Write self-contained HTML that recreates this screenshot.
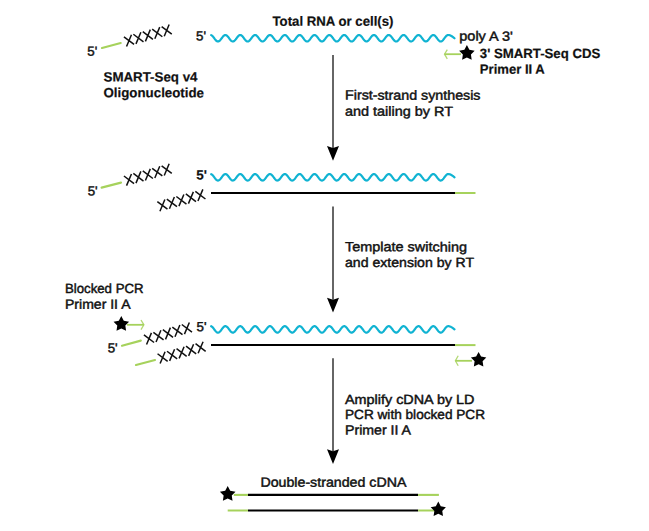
<!DOCTYPE html>
<html><head><meta charset="utf-8"><style>
html,body{margin:0;padding:0;background:#fff;}
svg{display:block;}
text{font-family:"Liberation Sans",sans-serif;fill:#111;}
text.r{stroke:#111;stroke-width:0.45px;}
text.b{stroke:#111;stroke-width:0.2px;}
</style></head><body>
<svg width="649" height="531" viewBox="0 0 649 531">
<rect width="649" height="531" fill="#fff"/>
<polyline points="211.20,35.12 211.70,35.38 212.20,35.76 212.70,36.25 213.20,36.84 213.70,37.48 214.20,38.16 214.70,38.85 215.20,39.50 215.70,40.11 216.20,40.62 216.70,41.04 217.20,41.33 217.70,41.48 218.20,41.49 218.70,41.35 219.20,41.07 219.70,40.67 220.20,40.17 220.70,39.57 221.20,38.92 221.70,38.24 222.20,37.55 222.70,36.90 223.20,36.31 223.70,35.81 224.20,35.41 224.70,35.14 225.20,35.01 225.70,35.03 226.20,35.18 226.70,35.48 227.20,35.89 227.70,36.42 228.20,37.02 228.70,37.68 229.20,38.37 229.70,39.04 230.20,39.69 230.70,40.27 231.20,40.76 231.70,41.14 232.20,41.39 232.70,41.50 233.20,41.46 233.70,41.28 234.20,40.97 234.70,40.53 235.19,40.00 235.69,39.38 236.19,38.72 236.69,38.03 237.19,37.36 237.69,36.72 238.19,36.15 238.69,35.68 239.19,35.32 239.69,35.09 240.19,35.00 240.69,35.06 241.19,35.26 241.69,35.59 242.19,36.04 242.69,36.59 243.19,37.21 243.69,37.88 244.19,38.57 244.69,39.24 245.19,39.87 245.69,40.42 246.19,40.88 246.69,41.22 247.19,41.43 247.69,41.50 248.19,41.42 248.69,41.20 249.19,40.85 249.69,40.39 250.19,39.83 250.69,39.19 251.19,38.52 251.69,37.83 252.19,37.17 252.69,36.55 253.19,36.00 253.69,35.56 254.19,35.24 254.69,35.05 255.19,35.00 255.69,35.10 256.19,35.34 256.69,35.71 257.19,36.19 257.69,36.76 258.19,37.40 258.69,38.08 259.19,38.77 259.69,39.43 260.19,40.04 260.69,40.57 261.19,40.99 261.69,41.30 262.19,41.47 262.69,41.49 263.19,41.37 263.69,41.11 264.19,40.73 264.69,40.23 265.19,39.65 265.69,39.00 266.19,38.32 266.69,37.63 267.19,36.98 267.69,36.38 268.19,35.86 268.69,35.45 269.19,35.17 269.69,35.02 270.19,35.02 270.69,35.16 271.19,35.44 271.69,35.84 272.19,36.35 272.69,36.95 273.19,37.60 273.69,38.28 274.19,38.96 274.69,39.61 275.19,40.20 275.69,40.71 276.19,41.10 276.69,41.36 277.19,41.49 277.69,41.47 278.19,41.31 278.69,41.01 279.19,40.59 279.69,40.07 280.19,39.46 280.69,38.80 281.19,38.12 281.69,37.44 282.19,36.79 282.68,36.22 283.18,35.73 283.68,35.36 284.18,35.11 284.68,35.00 285.18,35.04 285.68,35.22 286.18,35.54 286.68,35.98 287.18,36.52 287.68,37.13 288.18,37.80 288.68,38.49 289.18,39.16 289.68,39.80 290.18,40.36 290.68,40.83 291.18,41.19 291.68,41.41 292.18,41.50 292.68,41.44 293.18,41.24 293.68,40.90 294.18,40.45 294.68,39.90 295.18,39.27 295.68,38.60 296.18,37.91 296.68,37.24 297.18,36.62 297.68,36.06 298.18,35.61 298.68,35.27 299.18,35.06 299.68,35.00 300.18,35.08 300.68,35.30 301.18,35.66 301.68,36.13 302.18,36.69 302.68,37.33 303.18,38.00 303.68,38.69 304.18,39.35 304.68,39.97 305.18,40.51 305.68,40.95 306.18,41.27 306.68,41.45 307.18,41.50 307.68,41.39 308.18,41.15 308.68,40.78 309.18,40.29 309.68,39.72 310.18,39.08 310.68,38.40 311.18,37.71 311.68,37.05 312.18,36.45 312.68,35.92 313.18,35.49 313.68,35.19 314.18,35.03 314.68,35.01 315.18,35.13 315.68,35.40 316.18,35.79 316.68,36.28 317.18,36.87 317.68,37.52 318.18,38.20 318.68,38.89 319.18,39.54 319.68,40.14 320.18,40.65 320.68,41.06 321.18,41.34 321.68,41.48 322.18,41.48 322.68,41.34 323.18,41.05 323.68,40.65 324.18,40.13 324.68,39.54 325.18,38.88 325.68,38.20 326.18,37.52 326.68,36.87 327.18,36.28 327.68,35.78 328.18,35.39 328.68,35.13 329.18,35.01 329.67,35.03 330.17,35.20 330.67,35.50 331.17,35.92 331.67,36.45 332.17,37.06 332.67,37.72 333.17,38.40 333.67,39.08 334.17,39.72 334.67,40.30 335.17,40.78 335.67,41.15 336.17,41.40 336.67,41.50 337.17,41.45 337.67,41.27 338.17,40.95 338.67,40.51 339.17,39.97 339.67,39.35 340.17,38.68 340.67,38.00 341.17,37.32 341.67,36.69 342.17,36.12 342.67,35.66 343.17,35.30 343.67,35.08 344.17,35.00 344.67,35.06 345.17,35.27 345.67,35.61 346.17,36.07 346.67,36.62 347.17,37.25 347.67,37.92 348.17,38.60 348.67,39.28 349.17,39.90 349.67,40.45 350.17,40.90 350.67,41.24 351.17,41.44 351.67,41.50 352.17,41.41 352.67,41.19 353.17,40.83 353.67,40.36 354.17,39.79 354.67,39.16 355.17,38.48 355.67,37.79 356.17,37.13 356.67,36.51 357.17,35.98 357.67,35.54 358.17,35.22 358.67,35.04 359.17,35.00 359.67,35.11 360.17,35.36 360.67,35.73 361.17,36.22 361.67,36.80 362.17,37.44 362.67,38.12 363.17,38.80 363.67,39.46 364.17,40.07 364.67,40.60 365.17,41.02 365.67,41.31 366.17,41.47 366.67,41.49 367.17,41.36 367.67,41.10 368.17,40.70 368.67,40.20 369.17,39.61 369.67,38.96 370.17,38.28 370.67,37.60 371.17,36.94 371.67,36.35 372.17,35.84 372.67,35.43 373.17,35.16 373.67,35.02 374.17,35.02 374.67,35.17 375.17,35.45 375.67,35.87 376.17,36.38 376.67,36.98 377.16,37.64 377.66,38.32 378.16,39.00 378.66,39.65 379.16,40.23 379.66,40.73 380.16,41.12 380.66,41.37 381.16,41.49 381.66,41.47 382.16,41.30 382.66,40.99 383.16,40.57 383.66,40.03 384.16,39.42 384.66,38.76 385.16,38.08 385.66,37.40 386.16,36.76 386.66,36.19 387.16,35.71 387.66,35.34 388.16,35.10 388.66,35.00 389.16,35.05 389.66,35.24 390.16,35.56 390.66,36.01 391.16,36.55 391.66,37.17 392.16,37.84 392.66,38.52 393.16,39.20 393.66,39.83 394.16,40.39 394.66,40.86 395.16,41.21 395.66,41.42 396.16,41.50 396.66,41.43 397.16,41.22 397.66,40.88 398.16,40.42 398.66,39.86 399.16,39.23 399.66,38.56 400.16,37.88 400.66,37.21 401.16,36.58 401.66,36.03 402.16,35.59 402.66,35.25 403.16,35.06 403.66,35.00 404.16,35.09 404.66,35.32 405.16,35.68 405.66,36.16 406.16,36.73 406.66,37.36 407.16,38.04 407.66,38.72 408.16,39.39 408.66,40.00 409.16,40.54 409.66,40.97 410.16,41.28 410.66,41.46 411.16,41.49 411.66,41.38 412.16,41.13 412.66,40.76 413.16,40.26 413.66,39.68 414.16,39.04 414.66,38.36 415.16,37.68 415.66,37.02 416.16,36.41 416.66,35.89 417.16,35.47 417.66,35.18 418.16,35.03 418.66,35.01 419.16,35.14 419.66,35.41 420.16,35.81 420.66,36.32 421.16,36.91 421.66,37.56 422.16,38.24 422.66,38.92 423.16,39.58 423.66,40.17 424.16,40.68 424.65,41.08 425.15,41.35 425.65,41.49 426.15,41.48 426.65,41.32 427.15,41.04 427.65,40.62 428.15,40.10 428.65,39.50 429.15,38.84 429.65,38.16 430.15,37.48 430.65,36.83 431.15,36.25 431.65,35.76 432.15,35.38 432.65,35.12 433.15,35.01 433.65,35.04 434.15,35.21 434.65,35.52 435.15,35.95 435.65,36.48 436.15,37.09 436.65,37.76 437.15,38.44 437.65,39.12 438.15,39.76 438.65,40.33 439.15,40.81 439.65,41.17 440.15,41.40 440.65,41.50 441.15,41.45 441.65,41.25 442.15,40.93 442.65,40.48 443.15,39.93 443.65,39.31 444.15,38.64 444.65,37.96 445.15,37.28 445.65,36.65 446.15,36.10 446.65,35.63 447.15,35.29 447.65,35.07 448.15,35.00 448.60,35.02 449.06,35.08 449.51,35.18 449.96,35.32 450.42,35.50 450.87,35.71 451.32,35.95 451.78,36.22 452.23,36.52 452.69,36.84 453.14,37.18 453.59,37.53 454.05,37.89 454.50,38.25" fill="none" stroke="#10b3d2" stroke-width="2.2" stroke-linecap="round" stroke-linejoin="round"/>
<path d="M123.93 36.79L134.07 44.41M126.54 46.45L131.46 34.75" stroke="#111" stroke-width="1.5" fill="none"/><path d="M133.35 34.24L143.50 41.86M135.97 43.90L140.88 32.20" stroke="#111" stroke-width="1.5" fill="none"/><path d="M142.78 31.69L152.92 39.31M145.39 41.35L150.31 29.65" stroke="#111" stroke-width="1.5" fill="none"/><path d="M152.20 29.14L162.35 36.76M154.82 38.80L159.73 27.10" stroke="#111" stroke-width="1.5" fill="none"/><path d="M161.63 26.59L171.77 34.21M164.24 36.25L169.16 24.55" stroke="#111" stroke-width="1.5" fill="none"/>
<line x1="102" y1="48" x2="120.7" y2="43" stroke="#a6d25c" stroke-width="2.2" stroke-linecap="round"/>
<line x1="461" y1="54.2" x2="444.5" y2="54.2" stroke="#a6d25c" stroke-width="1.8" stroke-linecap="butt"/><polyline points="447.3,49.6 444.5,54.2 447.3,58.800000000000004" fill="none" stroke="#a6d25c" stroke-width="1.3" stroke-linejoin="miter" opacity="0.85"/>
<polygon points="466.90,45.00 469.39,49.72 474.65,50.63 470.93,54.46 471.69,59.74 466.90,57.39 462.11,59.74 462.87,54.46 459.15,50.63 464.41,49.72" fill="#000"/>
<line x1="333" y1="54.9" x2="333" y2="148" stroke="#333" stroke-width="1.5" stroke-linecap="butt"/><polygon points="327,146 333,160.8 339,146 333,148" fill="#000"/>
<polyline points="211.20,174.17 211.70,174.43 212.20,174.81 212.70,175.30 213.20,175.89 213.70,176.53 214.20,177.21 214.70,177.90 215.20,178.55 215.70,179.16 216.20,179.67 216.70,180.09 217.20,180.38 217.70,180.53 218.20,180.54 218.70,180.40 219.20,180.12 219.70,179.72 220.20,179.22 220.70,178.62 221.20,177.97 221.70,177.29 222.20,176.60 222.70,175.95 223.20,175.36 223.70,174.86 224.20,174.46 224.70,174.19 225.20,174.06 225.70,174.08 226.20,174.23 226.70,174.53 227.20,174.94 227.70,175.47 228.20,176.07 228.70,176.73 229.20,177.42 229.70,178.09 230.20,178.74 230.70,179.32 231.20,179.81 231.70,180.19 232.20,180.44 232.70,180.55 233.20,180.51 233.70,180.33 234.20,180.02 234.70,179.58 235.19,179.05 235.69,178.43 236.19,177.77 236.69,177.08 237.19,176.41 237.69,175.77 238.19,175.20 238.69,174.73 239.19,174.37 239.69,174.14 240.19,174.05 240.69,174.11 241.19,174.31 241.69,174.64 242.19,175.09 242.69,175.64 243.19,176.26 243.69,176.93 244.19,177.62 244.69,178.29 245.19,178.92 245.69,179.47 246.19,179.93 246.69,180.27 247.19,180.48 247.69,180.55 248.19,180.47 248.69,180.25 249.19,179.90 249.69,179.44 250.19,178.88 250.69,178.24 251.19,177.57 251.69,176.88 252.19,176.22 252.69,175.60 253.19,175.05 253.69,174.61 254.19,174.29 254.69,174.10 255.19,174.05 255.69,174.15 256.19,174.39 256.69,174.76 257.19,175.24 257.69,175.81 258.19,176.45 258.69,177.13 259.19,177.82 259.69,178.48 260.19,179.09 260.69,179.62 261.19,180.04 261.69,180.35 262.19,180.52 262.69,180.54 263.19,180.42 263.69,180.16 264.19,179.78 264.69,179.28 265.19,178.70 265.69,178.05 266.19,177.37 266.69,176.68 267.19,176.03 267.69,175.43 268.19,174.91 268.69,174.50 269.19,174.22 269.69,174.07 270.19,174.07 270.69,174.21 271.19,174.49 271.69,174.89 272.19,175.40 272.69,176.00 273.19,176.65 273.69,177.33 274.19,178.01 274.69,178.66 275.19,179.25 275.69,179.76 276.19,180.15 276.69,180.41 277.19,180.54 277.69,180.52 278.19,180.36 278.69,180.06 279.19,179.64 279.69,179.12 280.19,178.51 280.69,177.85 281.19,177.17 281.69,176.49 282.19,175.84 282.68,175.27 283.18,174.78 283.68,174.41 284.18,174.16 284.68,174.05 285.18,174.09 285.68,174.27 286.18,174.59 286.68,175.03 287.18,175.57 287.68,176.18 288.18,176.85 288.68,177.54 289.18,178.21 289.68,178.85 290.18,179.41 290.68,179.88 291.18,180.24 291.68,180.46 292.18,180.55 292.68,180.49 293.18,180.29 293.68,179.95 294.18,179.50 294.68,178.95 295.18,178.32 295.68,177.65 296.18,176.96 296.68,176.29 297.18,175.67 297.68,175.11 298.18,174.66 298.68,174.32 299.18,174.11 299.68,174.05 300.18,174.13 300.68,174.35 301.18,174.71 301.68,175.18 302.18,175.74 302.68,176.38 303.18,177.05 303.68,177.74 304.18,178.40 304.68,179.02 305.18,179.56 305.68,180.00 306.18,180.32 306.68,180.50 307.18,180.55 307.68,180.44 308.18,180.20 308.68,179.83 309.18,179.34 309.68,178.77 310.18,178.13 310.68,177.45 311.18,176.76 311.68,176.10 312.18,175.50 312.68,174.97 313.18,174.54 313.68,174.24 314.18,174.08 314.68,174.06 315.18,174.18 315.68,174.45 316.18,174.84 316.68,175.33 317.18,175.92 317.68,176.57 318.18,177.25 318.68,177.94 319.18,178.59 319.68,179.19 320.18,179.70 320.68,180.11 321.18,180.39 321.68,180.53 322.18,180.53 322.68,180.39 323.18,180.10 323.68,179.70 324.18,179.18 324.68,178.59 325.18,177.93 325.68,177.25 326.18,176.57 326.68,175.92 327.18,175.33 327.68,174.83 328.18,174.44 328.68,174.18 329.18,174.06 329.67,174.08 330.17,174.25 330.67,174.55 331.17,174.97 331.67,175.50 332.17,176.11 332.67,176.77 333.17,177.45 333.67,178.13 334.17,178.77 334.67,179.35 335.17,179.83 335.67,180.20 336.17,180.45 336.67,180.55 337.17,180.50 337.67,180.32 338.17,180.00 338.67,179.56 339.17,179.02 339.67,178.40 340.17,177.73 340.67,177.05 341.17,176.37 341.67,175.74 342.17,175.17 342.67,174.71 343.17,174.35 343.67,174.13 344.17,174.05 344.67,174.11 345.17,174.32 345.67,174.66 346.17,175.12 346.67,175.67 347.17,176.30 347.67,176.97 348.17,177.65 348.67,178.33 349.17,178.95 349.67,179.50 350.17,179.95 350.67,180.29 351.17,180.49 351.67,180.55 352.17,180.46 352.67,180.24 353.17,179.88 353.67,179.41 354.17,178.84 354.67,178.21 355.17,177.53 355.67,176.84 356.17,176.18 356.67,175.56 357.17,175.03 357.67,174.59 358.17,174.27 358.67,174.09 359.17,174.05 359.67,174.16 360.17,174.41 360.67,174.78 361.17,175.27 361.67,175.85 362.17,176.49 362.67,177.17 363.17,177.85 363.67,178.51 364.17,179.12 364.67,179.65 365.17,180.07 365.67,180.36 366.17,180.52 366.67,180.54 367.17,180.41 367.67,180.15 368.17,179.75 368.67,179.25 369.17,178.66 369.67,178.01 370.17,177.33 370.67,176.65 371.17,175.99 371.67,175.40 372.17,174.89 372.67,174.48 373.17,174.21 373.67,174.07 374.17,174.07 374.67,174.22 375.17,174.50 375.67,174.92 376.17,175.43 376.67,176.03 377.16,176.69 377.66,177.37 378.16,178.05 378.66,178.70 379.16,179.28 379.66,179.78 380.16,180.17 380.66,180.42 381.16,180.54 381.66,180.52 382.16,180.35 382.66,180.04 383.16,179.62 383.66,179.08 384.16,178.47 384.66,177.81 385.16,177.13 385.66,176.45 386.16,175.81 386.66,175.24 387.16,174.76 387.66,174.39 388.16,174.15 388.66,174.05 389.16,174.10 389.66,174.29 390.16,174.61 390.66,175.06 391.16,175.60 391.66,176.22 392.16,176.89 392.66,177.57 393.16,178.25 393.66,178.88 394.16,179.44 394.66,179.91 395.16,180.26 395.66,180.47 396.16,180.55 396.66,180.48 397.16,180.27 397.66,179.93 398.16,179.47 398.66,178.91 399.16,178.28 399.66,177.61 400.16,176.93 400.66,176.26 401.16,175.63 401.66,175.08 402.16,174.64 402.66,174.30 403.16,174.11 403.66,174.05 404.16,174.14 404.66,174.37 405.16,174.73 405.66,175.21 406.16,175.78 406.66,176.41 407.16,177.09 407.66,177.77 408.16,178.44 408.66,179.05 409.16,179.59 409.66,180.02 410.16,180.33 410.66,180.51 411.16,180.54 411.66,180.43 412.16,180.18 412.66,179.81 413.16,179.31 413.66,178.73 414.16,178.09 414.66,177.41 415.16,176.73 415.66,176.07 416.16,175.46 416.66,174.94 417.16,174.52 417.66,174.23 418.16,174.08 418.66,174.06 419.16,174.19 419.66,174.46 420.16,174.86 420.66,175.37 421.16,175.96 421.66,176.61 422.16,177.29 422.66,177.97 423.16,178.63 423.66,179.22 424.16,179.73 424.65,180.13 425.15,180.40 425.65,180.54 426.15,180.53 426.65,180.37 427.15,180.09 427.65,179.67 428.15,179.15 428.65,178.55 429.15,177.89 429.65,177.21 430.15,176.53 430.65,175.88 431.15,175.30 431.65,174.81 432.15,174.43 432.65,174.17 433.15,174.06 433.65,174.09 434.15,174.26 434.65,174.57 435.15,175.00 435.65,175.53 436.15,176.14 436.65,176.81 437.15,177.49 437.65,178.17 438.15,178.81 438.65,179.38 439.15,179.86 439.65,180.22 440.15,180.45 440.65,180.55 441.15,180.50 441.65,180.30 442.15,179.98 442.65,179.53 443.15,178.98 443.65,178.36 444.15,177.69 444.65,177.01 445.15,176.33 445.65,175.70 446.15,175.15 446.65,174.68 447.15,174.34 447.65,174.12 448.15,174.05 448.60,174.07 449.06,174.13 449.51,174.23 449.96,174.37 450.42,174.55 450.87,174.76 451.32,175.00 451.78,175.27 452.23,175.57 452.69,175.89 453.14,176.23 453.59,176.58 454.05,176.94 454.50,177.30" fill="none" stroke="#10b3d2" stroke-width="2.2" stroke-linecap="round" stroke-linejoin="round"/>
<line x1="211" y1="193" x2="455" y2="193" stroke="#000" stroke-width="2" stroke-linecap="butt"/>
<line x1="455" y1="193" x2="475.5" y2="193" stroke="#a6d25c" stroke-width="2" stroke-linecap="butt"/>
<path d="M123.93 175.99L134.07 183.61M126.54 185.65L131.46 173.95" stroke="#111" stroke-width="1.5" fill="none"/><path d="M133.35 173.44L143.50 181.06M135.97 183.10L140.88 171.40" stroke="#111" stroke-width="1.5" fill="none"/><path d="M142.78 170.89L152.92 178.51M145.39 180.55L150.31 168.85" stroke="#111" stroke-width="1.5" fill="none"/><path d="M152.20 168.34L162.35 175.96M154.82 178.00L159.73 166.30" stroke="#111" stroke-width="1.5" fill="none"/><path d="M161.63 165.79L171.77 173.41M164.24 175.45L169.16 163.75" stroke="#111" stroke-width="1.5" fill="none"/>
<line x1="101.6" y1="187.6" x2="121" y2="182.6" stroke="#a6d25c" stroke-width="2.2" stroke-linecap="round"/>
<path d="M157.34 201.58L167.46 209.22M159.93 211.24L164.87 199.56" stroke="#111" stroke-width="1.5" fill="none"/><path d="M166.84 199.03L176.96 206.67M169.43 208.69L174.37 197.01" stroke="#111" stroke-width="1.5" fill="none"/><path d="M176.34 196.48L186.46 204.12M178.93 206.14L183.87 194.46" stroke="#111" stroke-width="1.5" fill="none"/><path d="M185.84 193.93L195.96 201.57M188.43 203.59L193.37 191.91" stroke="#111" stroke-width="1.5" fill="none"/><path d="M195.34 191.38L205.46 199.02M197.93 201.04L202.87 189.36" stroke="#111" stroke-width="1.5" fill="none"/>
<line x1="333" y1="206.6" x2="333" y2="299.8" stroke="#333" stroke-width="1.5" stroke-linecap="butt"/><polygon points="327,297.8 333,312.6 339,297.8 333,299.8" fill="#000"/>
<polyline points="211.20,326.27 211.70,326.53 212.20,326.91 212.70,327.40 213.20,327.99 213.70,328.63 214.20,329.31 214.70,330.00 215.20,330.65 215.70,331.26 216.20,331.77 216.70,332.19 217.20,332.48 217.70,332.63 218.20,332.64 218.70,332.50 219.20,332.22 219.70,331.82 220.20,331.32 220.70,330.72 221.20,330.07 221.70,329.39 222.20,328.70 222.70,328.05 223.20,327.46 223.70,326.96 224.20,326.56 224.70,326.29 225.20,326.16 225.70,326.18 226.20,326.33 226.70,326.63 227.20,327.04 227.70,327.57 228.20,328.17 228.70,328.83 229.20,329.52 229.70,330.19 230.20,330.84 230.70,331.42 231.20,331.91 231.70,332.29 232.20,332.54 232.70,332.65 233.20,332.61 233.70,332.43 234.20,332.12 234.70,331.68 235.19,331.15 235.69,330.53 236.19,329.87 236.69,329.18 237.19,328.51 237.69,327.87 238.19,327.30 238.69,326.83 239.19,326.47 239.69,326.24 240.19,326.15 240.69,326.21 241.19,326.41 241.69,326.74 242.19,327.19 242.69,327.74 243.19,328.36 243.69,329.03 244.19,329.72 244.69,330.39 245.19,331.02 245.69,331.57 246.19,332.03 246.69,332.37 247.19,332.58 247.69,332.65 248.19,332.57 248.69,332.35 249.19,332.00 249.69,331.54 250.19,330.98 250.69,330.34 251.19,329.67 251.69,328.98 252.19,328.32 252.69,327.70 253.19,327.15 253.69,326.71 254.19,326.39 254.69,326.20 255.19,326.15 255.69,326.25 256.19,326.49 256.69,326.86 257.19,327.34 257.69,327.91 258.19,328.55 258.69,329.23 259.19,329.92 259.69,330.58 260.19,331.19 260.69,331.72 261.19,332.14 261.69,332.45 262.19,332.62 262.69,332.64 263.19,332.52 263.69,332.26 264.19,331.88 264.69,331.38 265.19,330.80 265.69,330.15 266.19,329.47 266.69,328.78 267.19,328.13 267.69,327.53 268.19,327.01 268.69,326.60 269.19,326.32 269.69,326.17 270.19,326.17 270.69,326.31 271.19,326.59 271.69,326.99 272.19,327.50 272.69,328.10 273.19,328.75 273.69,329.43 274.19,330.11 274.69,330.76 275.19,331.35 275.69,331.86 276.19,332.25 276.69,332.51 277.19,332.64 277.69,332.62 278.19,332.46 278.69,332.16 279.19,331.74 279.69,331.22 280.19,330.61 280.69,329.95 281.19,329.27 281.69,328.59 282.19,327.94 282.68,327.37 283.18,326.88 283.68,326.51 284.18,326.26 284.68,326.15 285.18,326.19 285.68,326.37 286.18,326.69 286.68,327.13 287.18,327.67 287.68,328.28 288.18,328.95 288.68,329.64 289.18,330.31 289.68,330.95 290.18,331.51 290.68,331.98 291.18,332.34 291.68,332.56 292.18,332.65 292.68,332.59 293.18,332.39 293.68,332.05 294.18,331.60 294.68,331.05 295.18,330.42 295.68,329.75 296.18,329.06 296.68,328.39 297.18,327.77 297.68,327.21 298.18,326.76 298.68,326.42 299.18,326.21 299.68,326.15 300.18,326.23 300.68,326.45 301.18,326.81 301.68,327.28 302.18,327.84 302.68,328.48 303.18,329.15 303.68,329.84 304.18,330.50 304.68,331.12 305.18,331.66 305.68,332.10 306.18,332.42 306.68,332.60 307.18,332.65 307.68,332.54 308.18,332.30 308.68,331.93 309.18,331.44 309.68,330.87 310.18,330.23 310.68,329.55 311.18,328.86 311.68,328.20 312.18,327.60 312.68,327.07 313.18,326.64 313.68,326.34 314.18,326.18 314.68,326.16 315.18,326.28 315.68,326.55 316.18,326.94 316.68,327.43 317.18,328.02 317.68,328.67 318.18,329.35 318.68,330.04 319.18,330.69 319.68,331.29 320.18,331.80 320.68,332.21 321.18,332.49 321.68,332.63 322.18,332.63 322.68,332.49 323.18,332.20 323.68,331.80 324.18,331.28 324.68,330.69 325.18,330.03 325.68,329.35 326.18,328.67 326.68,328.02 327.18,327.43 327.68,326.93 328.18,326.54 328.68,326.28 329.18,326.16 329.67,326.18 330.17,326.35 330.67,326.65 331.17,327.07 331.67,327.60 332.17,328.21 332.67,328.87 333.17,329.55 333.67,330.23 334.17,330.87 334.67,331.45 335.17,331.93 335.67,332.30 336.17,332.55 336.67,332.65 337.17,332.60 337.67,332.42 338.17,332.10 338.67,331.66 339.17,331.12 339.67,330.50 340.17,329.83 340.67,329.15 341.17,328.47 341.67,327.84 342.17,327.27 342.67,326.81 343.17,326.45 343.67,326.23 344.17,326.15 344.67,326.21 345.17,326.42 345.67,326.76 346.17,327.22 346.67,327.77 347.17,328.40 347.67,329.07 348.17,329.75 348.67,330.43 349.17,331.05 349.67,331.60 350.17,332.05 350.67,332.39 351.17,332.59 351.67,332.65 352.17,332.56 352.67,332.34 353.17,331.98 353.67,331.51 354.17,330.94 354.67,330.31 355.17,329.63 355.67,328.94 356.17,328.28 356.67,327.66 357.17,327.13 357.67,326.69 358.17,326.37 358.67,326.19 359.17,326.15 359.67,326.26 360.17,326.51 360.67,326.88 361.17,327.37 361.67,327.95 362.17,328.59 362.67,329.27 363.17,329.95 363.67,330.61 364.17,331.22 364.67,331.75 365.17,332.17 365.67,332.46 366.17,332.62 366.67,332.64 367.17,332.51 367.67,332.25 368.17,331.85 368.67,331.35 369.17,330.76 369.67,330.11 370.17,329.43 370.67,328.75 371.17,328.09 371.67,327.50 372.17,326.99 372.67,326.58 373.17,326.31 373.67,326.17 374.17,326.17 374.67,326.32 375.17,326.60 375.67,327.02 376.17,327.53 376.67,328.13 377.16,328.79 377.66,329.47 378.16,330.15 378.66,330.80 379.16,331.38 379.66,331.88 380.16,332.27 380.66,332.52 381.16,332.64 381.66,332.62 382.16,332.45 382.66,332.14 383.16,331.72 383.66,331.18 384.16,330.57 384.66,329.91 385.16,329.23 385.66,328.55 386.16,327.91 386.66,327.34 387.16,326.86 387.66,326.49 388.16,326.25 388.66,326.15 389.16,326.20 389.66,326.39 390.16,326.71 390.66,327.16 391.16,327.70 391.66,328.32 392.16,328.99 392.66,329.67 393.16,330.35 393.66,330.98 394.16,331.54 394.66,332.01 395.16,332.36 395.66,332.57 396.16,332.65 396.66,332.58 397.16,332.37 397.66,332.03 398.16,331.57 398.66,331.01 399.16,330.38 399.66,329.71 400.16,329.03 400.66,328.36 401.16,327.73 401.66,327.18 402.16,326.74 402.66,326.40 403.16,326.21 403.66,326.15 404.16,326.24 404.66,326.47 405.16,326.83 405.66,327.31 406.16,327.88 406.66,328.51 407.16,329.19 407.66,329.87 408.16,330.54 408.66,331.15 409.16,331.69 409.66,332.12 410.16,332.43 410.66,332.61 411.16,332.64 411.66,332.53 412.16,332.28 412.66,331.91 413.16,331.41 413.66,330.83 414.16,330.19 414.66,329.51 415.16,328.83 415.66,328.17 416.16,327.56 416.66,327.04 417.16,326.62 417.66,326.33 418.16,326.18 418.66,326.16 419.16,326.29 419.66,326.56 420.16,326.96 420.66,327.47 421.16,328.06 421.66,328.71 422.16,329.39 422.66,330.07 423.16,330.73 423.66,331.32 424.16,331.83 424.65,332.23 425.15,332.50 425.65,332.64 426.15,332.63 426.65,332.47 427.15,332.19 427.65,331.77 428.15,331.25 428.65,330.65 429.15,329.99 429.65,329.31 430.15,328.63 430.65,327.98 431.15,327.40 431.65,326.91 432.15,326.53 432.65,326.27 433.15,326.16 433.65,326.19 434.15,326.36 434.65,326.67 435.15,327.10 435.65,327.63 436.15,328.24 436.65,328.91 437.15,329.59 437.65,330.27 438.15,330.91 438.65,331.48 439.15,331.96 439.65,332.32 440.15,332.55 440.65,332.65 441.15,332.60 441.65,332.40 442.15,332.08 442.65,331.63 443.15,331.08 443.65,330.46 444.15,329.79 444.65,329.11 445.15,328.43 445.65,327.80 446.15,327.25 446.65,326.78 447.15,326.44 447.65,326.22 448.15,326.15 448.60,326.17 449.06,326.23 449.51,326.33 449.96,326.47 450.42,326.65 450.87,326.86 451.32,327.10 451.78,327.37 452.23,327.67 452.69,327.99 453.14,328.33 453.59,328.68 454.05,329.04 454.50,329.40" fill="none" stroke="#10b3d2" stroke-width="2.2" stroke-linecap="round" stroke-linejoin="round"/>
<line x1="211" y1="345.1" x2="455" y2="345.1" stroke="#000" stroke-width="2" stroke-linecap="butt"/>
<line x1="455" y1="345.1" x2="475.5" y2="345.1" stroke="#a6d25c" stroke-width="2" stroke-linecap="butt"/>
<polygon points="121.30,316.10 123.79,320.82 129.05,321.73 125.33,325.56 126.09,330.84 121.30,328.49 116.51,330.84 117.27,325.56 113.55,321.73 118.81,320.82" fill="#000"/>
<line x1="127" y1="324.8" x2="143.9" y2="324.8" stroke="#a6d25c" stroke-width="1.8" stroke-linecap="butt"/><polyline points="141.0,320.0 143.9,324.8 141.0,329.6" fill="none" stroke="#a6d25c" stroke-width="1.3" stroke-linejoin="miter" opacity="0.85"/>
<line x1="122" y1="345.8" x2="140.8" y2="340.6" stroke="#a6d25c" stroke-width="2.2" stroke-linecap="round"/>
<path d="M143.92 334.91L154.08 342.49M146.56 344.55L151.44 332.85" stroke="#111" stroke-width="1.5" fill="none"/><path d="M153.39 332.31L163.56 339.89M156.04 341.95L160.91 330.25" stroke="#111" stroke-width="1.5" fill="none"/><path d="M162.87 329.71L173.03 337.29M165.51 339.35L170.39 327.65" stroke="#111" stroke-width="1.5" fill="none"/><path d="M172.34 327.11L182.51 334.69M174.99 336.75L179.86 325.05" stroke="#111" stroke-width="1.5" fill="none"/><path d="M181.82 324.51L191.98 332.09M184.46 334.15L189.34 322.45" stroke="#111" stroke-width="1.5" fill="none"/>
<line x1="136" y1="365" x2="155" y2="360" stroke="#a6d25c" stroke-width="2.2" stroke-linecap="round"/>
<path d="M157.55 353.77L167.65 361.43M160.12 363.43L165.08 351.77" stroke="#111" stroke-width="1.5" fill="none"/><path d="M167.05 351.24L177.15 358.91M169.62 360.91L174.58 349.24" stroke="#111" stroke-width="1.5" fill="none"/><path d="M176.55 348.72L186.65 356.38M179.12 358.38L184.08 346.72" stroke="#111" stroke-width="1.5" fill="none"/><path d="M186.05 346.19L196.15 353.86M188.62 355.86L193.58 344.19" stroke="#111" stroke-width="1.5" fill="none"/><path d="M195.55 343.67L205.65 351.33M198.12 353.33L203.08 341.67" stroke="#111" stroke-width="1.5" fill="none"/>
<line x1="472" y1="360.8" x2="455.4" y2="360.8" stroke="#a6d25c" stroke-width="1.8" stroke-linecap="butt"/><polyline points="458.2,355.8 455.4,360.8 458.2,365.8" fill="none" stroke="#a6d25c" stroke-width="1.3" stroke-linejoin="miter" opacity="0.85"/>
<polygon points="478.60,351.90 481.08,356.59 486.30,357.50 482.61,361.30 483.36,366.55 478.60,364.21 473.84,366.55 474.59,361.30 470.90,357.50 476.12,356.59" fill="#000"/>
<line x1="333" y1="358.3" x2="333" y2="451.2" stroke="#333" stroke-width="1.5" stroke-linecap="butt"/><polygon points="327,449.2 333,464.0 339,449.2 333,451.2" fill="#000"/>
<line x1="233.8" y1="494.9" x2="248" y2="494.9" stroke="#a6d25c" stroke-width="2.1" stroke-linecap="butt"/>
<line x1="248" y1="494.9" x2="418.1" y2="494.9" stroke="#000" stroke-width="2.1" stroke-linecap="butt"/>
<line x1="418.1" y1="494.9" x2="438.9" y2="494.9" stroke="#a6d25c" stroke-width="2.1" stroke-linecap="butt"/>
<polygon points="227.70,486.00 230.21,490.75 235.50,491.67 231.76,495.52 232.52,500.83 227.70,498.46 222.88,500.83 223.64,495.52 219.90,491.67 225.19,490.75" fill="#000"/>
<line x1="227.7" y1="510.5" x2="248" y2="510.5" stroke="#a6d25c" stroke-width="2" stroke-linecap="butt"/>
<line x1="248" y1="510.5" x2="418.1" y2="510.5" stroke="#000" stroke-width="2" stroke-linecap="butt"/>
<line x1="418.1" y1="510.5" x2="438.3" y2="510.5" stroke="#a6d25c" stroke-width="2" stroke-linecap="butt"/>
<polygon points="438.30,501.60 440.75,506.23 445.91,507.13 442.26,510.89 443.00,516.07 438.30,513.76 433.60,516.07 434.34,510.89 430.69,507.13 435.85,506.23" fill="#000"/>
<text class="b" transform="translate(272.5,25.7) rotate(0.05)" font-size="13.4" font-weight="bold" textLength="121" lengthAdjust="spacingAndGlyphs">Total RNA or cell(s)</text>
<text class="r" transform="translate(196,40.6) rotate(0.05)" font-size="13.3" font-weight="normal">5'</text>
<text class="r" transform="translate(459.3,40.6) rotate(0.05)" font-size="13.3" font-weight="normal" textLength="53.5" lengthAdjust="spacingAndGlyphs">poly A 3'</text>
<text class="b" transform="translate(479.8,57.9) rotate(0.05)" font-size="13.4" font-weight="bold" textLength="120.5" lengthAdjust="spacingAndGlyphs">3' SMART-Seq CDS</text>
<text class="b" transform="translate(479.8,73.8) rotate(0.05)" font-size="13.4" font-weight="bold" textLength="65" lengthAdjust="spacingAndGlyphs">Primer II A</text>
<text class="r" transform="translate(87.3,55.8) rotate(0.05)" font-size="13.3" font-weight="normal">5'</text>
<text class="b" transform="translate(103.5,81.5) rotate(0.05)" font-size="13.4" font-weight="bold" textLength="94" lengthAdjust="spacingAndGlyphs">SMART-Seq v4</text>
<text class="b" transform="translate(103.5,97.3) rotate(0.05)" font-size="13.4" font-weight="bold" textLength="100.5" lengthAdjust="spacingAndGlyphs">Oligonucleotide</text>
<text class="r" transform="translate(345,99.6) rotate(0.05)" font-size="13.3" font-weight="normal" textLength="135.5" lengthAdjust="spacingAndGlyphs">First-strand synthesis</text>
<text class="r" transform="translate(345,115.8) rotate(0.05)" font-size="13.3" font-weight="normal" textLength="108" lengthAdjust="spacingAndGlyphs">and tailing by RT</text>
<text class="r" transform="translate(87.7,195.4) rotate(0.05)" font-size="13.3" font-weight="normal">5'</text>
<text class="b" transform="translate(196.3,179.5) rotate(0.05)" font-size="13.4" font-weight="bold">5'</text>
<text class="r" transform="translate(345,251.3) rotate(0.05)" font-size="13.3" font-weight="normal" textLength="122" lengthAdjust="spacingAndGlyphs">Template switching</text>
<text class="r" transform="translate(345,267) rotate(0.05)" font-size="13.3" font-weight="normal" textLength="129" lengthAdjust="spacingAndGlyphs">and extension by RT</text>
<text class="r" transform="translate(65,293) rotate(0.05)" font-size="13.3" font-weight="normal" textLength="78.5" lengthAdjust="spacingAndGlyphs">Blocked PCR</text>
<text class="r" transform="translate(65,308.8) rotate(0.05)" font-size="13.3" font-weight="normal" textLength="65.5" lengthAdjust="spacingAndGlyphs">Primer II A</text>
<text class="r" transform="translate(107.7,352.6) rotate(0.05)" font-size="13.3" font-weight="normal">5'</text>
<text class="r" transform="translate(196.5,331.3) rotate(0.05)" font-size="13.3" font-weight="normal">5'</text>
<text class="r" transform="translate(345,403.9) rotate(0.05)" font-size="13.3" font-weight="normal" textLength="129.5" lengthAdjust="spacingAndGlyphs">Amplify cDNA by LD</text>
<text class="r" transform="translate(345,418.9) rotate(0.05)" font-size="13.3" font-weight="normal" textLength="140" lengthAdjust="spacingAndGlyphs">PCR with blocked PCR</text>
<text class="r" transform="translate(345,434.4) rotate(0.05)" font-size="13.3" font-weight="normal" textLength="66" lengthAdjust="spacingAndGlyphs">Primer II A</text>
<text class="r" transform="translate(260.4,486.7) rotate(0.05)" font-size="13.3" font-weight="normal" textLength="146" lengthAdjust="spacingAndGlyphs">Double-stranded cDNA</text>
</svg></body></html>
